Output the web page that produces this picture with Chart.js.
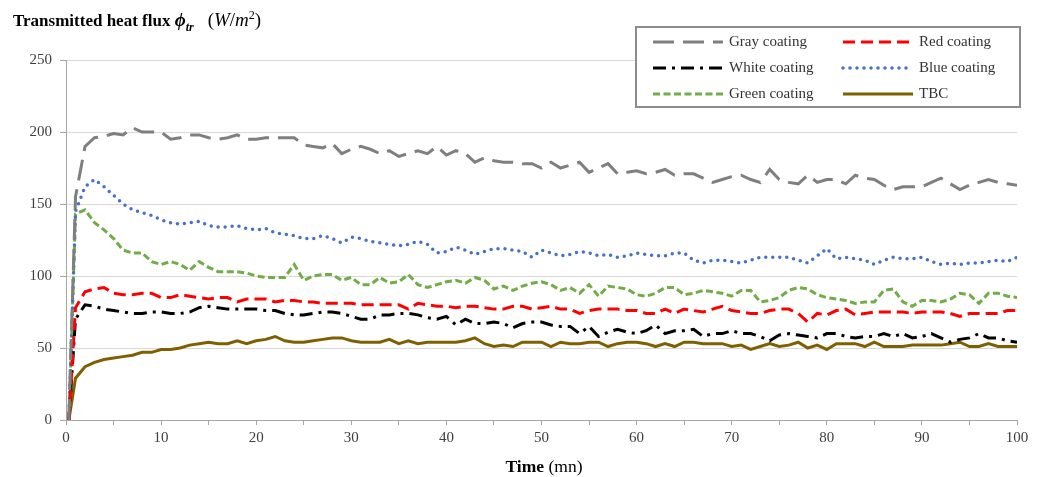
<!DOCTYPE html>
<html>
<head>
<meta charset="utf-8">
<script src="https://cdn.jsdelivr.net/npm/chart.js@4.4.0/dist/chart.umd.min.js"></script>
<style>
body { margin: 0; background: #fff; }
#wrap { position: relative; width: 1041px; height: 477px; }
#yTitle { position: absolute; left: 13px; top: 8px; font: bold 17px 'Liberation Serif', serif; color: #000; white-space: nowrap; }
#yTitle i { font-style: italic; font-size: 19px; }
#yTitle sub { font-size: 12px; }
#yTitle .u { font-weight: normal; font-size: 19px; margin-left: 14px; }
#xTitle { position: absolute; left: 0; width: 1088px; top: 456px; text-align: center; font: 17.5px 'Liberation Serif', serif; color: #000; }
</style>
</head>
<body>
<div id="wrap">
  <canvas id="fluxChart" width="1041" height="477"></canvas>
  <div id="yTitle">Transmitted heat flux <i>ϕ<sub>tr</sub></i><span class="u">(<i>W</i>/<i>m</i><sup style="font-size:12px">2</sup>)</span></div>
  <div id="xTitle"><b>Time</b> (mn)</div>
</div>
<script>
// time in minutes
const time = [0.3,1,2,3,4,5,6,7,8,9,10,
  11,12,13,14,15,16,17,18,19,20,
  21,22,23,24,25,26,27,28,29,30,
  31,32,33,34,35,36,37,38,39,40,
  41,42,43,44,45,46,47,48,49,50,
  51,52,53,54,55,56,57,58,59,60,
  61,62,63,64,65,66,67,68,69,70,
  71,72,73,74,75,76,77,78,79,80,
  81,82,83,84,85,86,87,88,89,90,
  91,92,93,94,95,96,97,98,99,100];

const gray = [0,155,190,196,197,199,198,203,200,200,200,
  195,196,198,198,196,195,196,198,195,195,
  196,196,196,196,191,190,189,192,185,188,
  190,188,185,187,183,185,187,185,190,184,
  187,185,179,182,180,179,179,178,178,175,
  179,175,177,179,172,175,178,171,172,173,
  171,172,174,170,171,171,168,165,167,169,
  170,167,165,174,167,165,164,170,165,167,
  167,164,170,168,167,163,160,162,162,162,
  165,168,164,160,163,165,167,165,164,163];

const red = [0,78,89,91,92,88,87,87,88,88,85,
  85,87,86,85,84,85,85,82,84,84,
  84,82,83,83,82,82,81,81,81,81,
  80,80,80,80,80,77,81,80,79,79,
  78,79,79,78,77,77,79,79,77,78,
  79,77,77,74,76,77,77,77,76,76,
  74,74,77,74,77,76,75,77,79,76,
  75,74,74,76,77,77,74,68,74,73,
  76,77,73,74,75,75,75,75,74,75,
  75,75,74,72,74,74,74,74,76,76];

const white = [0,70,80,79,77,76,75,74,74,75,75,
  74,74,75,78,79,78,77,77,77,77,
  76,76,74,73,73,74,75,75,74,72,
  70,70,73,73,74,74,73,71,70,72,
  66,70,67,67,68,67,64,67,68,68,
  66,65,65,60,65,58,61,63,61,60,
  62,66,60,62,62,63,58,60,60,62,
  60,60,58,55,59,60,59,58,57,60,
  60,58,57,58,58,60,58,60,57,58,
  60,57,54,56,57,60,57,57,55,54];

const blue = [0,145,162,167,162,156,150,146,144,142,139,
  137,136,137,138,135,134,134,135,133,132,
  133,130,129,128,126,126,128,126,123,127,
  126,124,123,122,121,122,124,122,116,117,
  120,118,115,117,119,119,118,117,113,118,
  116,114,115,117,116,114,115,113,114,116,
  115,114,114,116,116,111,109,111,111,110,
  109,111,113,113,113,113,111,109,114,119,
  112,113,112,111,108,111,113,112,112,113,
  110,108,109,108,109,109,110,111,110,113];

const green = [0,143,146,137,132,126,118,116,116,110,108,
  110,108,104,110,106,103,103,103,102,100,
  99,99,99,108,97,100,101,101,97,99,
  94,94,99,95,96,101,94,92,94,96,
  97,95,99,97,91,93,90,93,95,96,
  94,90,92,88,94,86,93,92,91,87,
  86,88,92,92,87,88,90,89,88,86,
  90,90,82,83,85,90,92,91,87,85,
  84,83,81,82,82,90,91,82,79,83,
  83,82,84,88,87,81,88,88,86,85];

const tbc = [0,29,37,40,42,43,44,45,47,47,49,
  49,50,52,53,54,53,53,55,53,55,
  56,58,55,54,54,55,56,57,57,55,
  54,54,54,56,53,55,53,54,54,54,
  54,55,57,53,51,52,51,54,54,54,
  51,54,53,53,54,54,51,53,54,54,
  53,51,53,51,54,54,53,53,53,51,
  52,49,51,53,51,52,54,50,52,49,
  53,53,53,51,54,51,51,51,52,52,
  52,52,53,54,51,51,53,51,51,51];

const labels = ["Gray coating", "Red coating", "White coating", "Blue coating", "Green coating", "TBC"];

function pts(vals) {
  return vals.map((v, i) => ({ x: time[i], y: v }));
}

const legendBox = {
  id: "legendBox",
  afterDraw(chart) {
    const ctx = chart.ctx;
    ctx.save();
    ctx.fillStyle = "#fff";
    ctx.fillRect(636, 27, 384, 80);
    ctx.strokeStyle = "#8c8c8c";
    ctx.lineWidth = 2;
    ctx.strokeRect(636, 27, 384, 80);
    chart.data.datasets.forEach((ds, i) => {
      let col = i % 2, row = Math.floor(i / 2);
      let x0 = col ? 843 : 653, y = 42 + row * 26;
      ctx.beginPath();
      ctx.setLineDash(ds.borderDash || []);
      ctx.lineCap = ds.borderCapStyle || "butt";
      ctx.strokeStyle = ds.borderColor;
      ctx.lineWidth = ds.borderWidth;
      ctx.moveTo(x0, y);
      ctx.lineTo(x0 + 70, y);
      ctx.stroke();
      ctx.setLineDash([]);
      ctx.fillStyle = "#333";
      ctx.font = "15px 'Liberation Serif'";
      ctx.textBaseline = "middle";
      ctx.fillText(ds.label, x0 + 76, y);
    });
    ctx.restore();
  }
};

const tickFont = { family: "'Liberation Serif'", size: 15 };

new Chart(document.getElementById("fluxChart").getContext("2d"), {
  type: "line",
  data: {
    datasets: [
      { label: labels[0], data: pts(gray), borderColor: "#7f7f7f", borderWidth: 3, borderDash: [21, 9] },
      { label: labels[1], data: pts(red), borderColor: "#ff0000", borderWidth: 3, borderDash: [12, 6] },
      { label: labels[2], data: pts(white), borderColor: "#000000", borderWidth: 3, borderDash: [13, 6, 3, 6] },
      { label: labels[3], data: pts(blue), borderColor: "#4472c4", borderWidth: 3.5, borderDash: [0, 7], borderCapStyle: "round" },
      { label: labels[4], data: pts(green), borderColor: "#70ad47", borderWidth: 3, borderDash: [7, 3.5] },
      { label: labels[5], data: pts(tbc), borderColor: "#7f6000", borderWidth: 3 }
    ]
  },
  options: {
    responsive: false,
    animation: false,
    layout: { padding: { left: 0, top: 60, right: 24, bottom: 0 } },
    elements: { point: { radius: 0 }, line: { tension: 0, fill: false } },
    plugins: { legend: { display: false }, tooltip: { enabled: false } },
    scales: {
      x: {
        type: "linear", min: 0, max: 100,
        afterFit: s => { s.height = 57; },
        grid: { drawOnChartArea: false, tickLength: 5, color: "#a6a6a6" },
        border: { color: "#a6a6a6" },
        ticks: { stepSize: 5, autoSkip: false, maxRotation: 0, padding: 4, color: "#404040", font: tickFont,
          callback: v => (v % 10 === 0 ? v : "") }
      },
      y: {
        min: 0, max: 250,
        afterFit: s => { s.width = 66; },
        grid: { color: "#d9d9d9", tickLength: 6, tickColor: "#a6a6a6" },
        border: { color: "#a6a6a6" },
        ticks: { stepSize: 50, padding: 8, color: "#404040", font: tickFont }
      }
    }
  },
  plugins: [legendBox]
});
</script>
</body>
</html>
